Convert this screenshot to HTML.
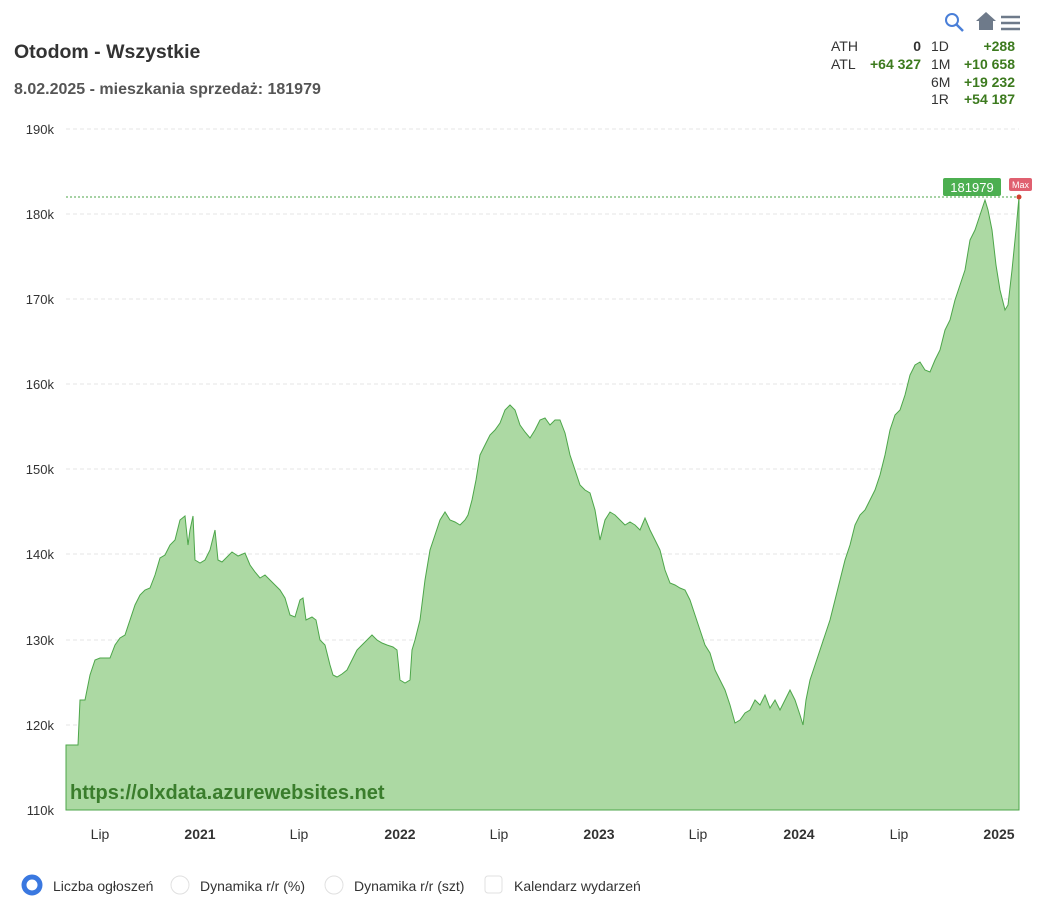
<!DOCTYPE html>
<html><head><meta charset="utf-8"><style>
body{margin:0;background:#fff;width:1039px;height:915px;overflow:hidden;font-family:"Liberation Sans",sans-serif}
</style></head><body>
<svg width="1039" height="915" xmlns="http://www.w3.org/2000/svg" font-family="Liberation Sans, sans-serif">
<rect width="1039" height="915" fill="#fff"/>
<text x="14" y="58" font-size="19.5" font-weight="bold" fill="#333">Otodom - Wszystkie</text>
<text x="14" y="94" font-size="16" font-weight="bold" fill="#555">8.02.2025 - mieszkania sprzedaż: 181979</text>
<g font-size="14" fill="#333">
<text x="831" y="51">ATH</text><text x="921" y="51" text-anchor="end" font-weight="bold">0</text>
<text x="831" y="69">ATL</text><text x="921" y="69" text-anchor="end" font-weight="bold" fill="#3c7a1e">+64 327</text>
<text x="931" y="51">1D</text><text x="1015" y="51" text-anchor="end" font-weight="bold" fill="#3c7a1e">+288</text>
<text x="931" y="69">1M</text><text x="1015" y="69" text-anchor="end" font-weight="bold" fill="#3c7a1e">+10 658</text>
<text x="931" y="87">6M</text><text x="1015" y="87" text-anchor="end" font-weight="bold" fill="#3c7a1e">+19 232</text>
<text x="931" y="104">1R</text><text x="1015" y="104" text-anchor="end" font-weight="bold" fill="#3c7a1e">+54 187</text>
</g>
<circle cx="952" cy="20" r="6" fill="none" stroke="#4a7fd8" stroke-width="2"/><line x1="956" y1="24" x2="963" y2="31" stroke="#4a7fd8" stroke-width="2.5"/>
<path d="M976 21 L986 12 L996 21 L993 21 L993 30 L979 30 L979 21Z" fill="#6e7a8a"/>
<g stroke="#6e7a8a" stroke-width="2.5"><line x1="1001" y1="17" x2="1020" y2="17"/><line x1="1001" y1="23" x2="1020" y2="23"/><line x1="1001" y1="29" x2="1020" y2="29"/></g>
<g stroke="#e6e6e6" stroke-dasharray="4,3">
<line x1="66" y1="129" x2="1019" y2="129"/><line x1="66" y1="214" x2="1019" y2="214"/><line x1="66" y1="299" x2="1019" y2="299"/><line x1="66" y1="384" x2="1019" y2="384"/><line x1="66" y1="469" x2="1019" y2="469"/><line x1="66" y1="554" x2="1019" y2="554"/><line x1="66" y1="640" x2="1019" y2="640"/><line x1="66" y1="725" x2="1019" y2="725"/>
</g>
<g font-size="13" fill="#333" text-anchor="end">
<text x="54" y="134">190k</text><text x="54" y="219">180k</text><text x="54" y="304">170k</text><text x="54" y="389">160k</text><text x="54" y="474">150k</text><text x="54" y="559">140k</text><text x="54" y="645">130k</text><text x="54" y="730">120k</text><text x="54" y="815">110k</text>
</g>
<path fill="#acd9a3" stroke="#4da64a" stroke-width="1" d="M66,745 L78,745 L80,700 L85,700 L90,675 L95,660 L100,658 L110,658 L115,645 L120,638 L125,635 L130,620 L135,605 L140,595 L145,590 L150,588 L155,575 L160,558 L165,555 L170,545 L175,540 L180,520 L185,516 L188,545 L190,530 L193,516 L195,560 L200,563 L205,560 L210,550 L215,530 L218,560 L222,562 L228,556 L232,552 L238,556 L245,553 L250,565 L255,572 L260,578 L265,575 L270,580 L275,585 L280,590 L285,598 L290,615 L295,617 L300,600 L303,598 L306,620 L312,617 L316,620 L320,640 L325,645 L330,665 L333,675 L337,677 L342,674 L347,670 L352,660 L357,650 L362,645 L367,640 L372,635 L377,640 L382,643 L387,645 L393,647 L397,650 L400,680 L405,683 L410,680 L412,650 L415,640 L420,620 L425,580 L430,550 L435,535 L440,520 L445,512 L450,520 L455,522 L460,525 L465,520 L468,515 L472,500 L476,480 L480,455 L485,445 L490,435 L495,430 L500,423 L505,410 L510,405 L515,410 L520,425 L525,432 L530,438 L535,430 L540,420 L545,418 L550,425 L555,420 L560,420 L565,433 L570,455 L575,470 L580,485 L585,490 L590,493 L595,510 L600,540 L605,520 L610,512 L615,515 L620,520 L625,525 L630,522 L635,525 L640,530 L645,518 L650,530 L655,540 L660,550 L665,570 L670,583 L675,585 L680,588 L685,590 L690,600 L695,615 L700,630 L705,645 L710,653 L715,670 L720,680 L725,690 L730,705 L735,723 L740,720 L745,713 L750,710 L755,700 L760,705 L765,695 L770,708 L775,700 L780,710 L785,700 L790,690 L795,700 L800,715 L803,725 L806,700 L810,680 L815,665 L820,650 L825,635 L830,620 L835,600 L840,580 L845,560 L850,545 L855,525 L860,515 L865,510 L870,500 L875,490 L880,475 L885,455 L890,430 L895,415 L900,410 L905,395 L910,375 L915,365 L920,362 L925,370 L930,372 L935,360 L940,350 L945,330 L950,320 L955,300 L960,285 L965,270 L970,240 L975,230 L980,215 L985,200 L988,210 L992,230 L996,265 L1000,290 L1005,310 L1008,305 L1012,270 L1016,230 L1019,197 L1019,810 L66,810 Z"/>
<line x1="66" y1="197" x2="1019" y2="197" stroke="#4da64a" stroke-dasharray="2,2"/>
<rect x="943" y="178" width="58" height="18" rx="2" fill="#4caf50"/>
<text x="972" y="192" font-size="13" fill="#fff" text-anchor="middle">181979</text>
<rect x="1009" y="178" width="23" height="13" rx="2" fill="#e06070"/>
<text x="1020.5" y="188" font-size="9" fill="#fff" text-anchor="middle">Max</text>
<circle cx="1019" cy="197" r="2.5" fill="#d04030"/>
<text x="70" y="799" font-size="20" font-weight="bold" fill="#3a7d2c">https://olxdata.azurewebsites.net</text>
<g font-size="14" fill="#333" text-anchor="middle">
<text x="100" y="839">Lip</text><text x="200" y="839" font-weight="bold">2021</text><text x="299" y="839">Lip</text><text x="400" y="839" font-weight="bold">2022</text><text x="499" y="839">Lip</text><text x="599" y="839" font-weight="bold">2023</text><text x="698" y="839">Lip</text><text x="799" y="839" font-weight="bold">2024</text><text x="899" y="839">Lip</text><text x="999" y="839" font-weight="bold">2025</text>
</g>
<circle cx="32" cy="885" r="8" fill="none" stroke="#3a78e0" stroke-width="5"/>
<text x="53" y="891" font-size="14" fill="#333">Liczba ogłoszeń</text>
<circle cx="180" cy="885" r="9" fill="none" stroke="#e0e0e0"/>
<text x="200" y="891" font-size="14" fill="#333">Dynamika r/r (%)</text>
<circle cx="334" cy="885" r="9" fill="none" stroke="#e0e0e0"/>
<text x="354" y="891" font-size="14" fill="#333">Dynamika r/r (szt)</text>
<rect x="485" y="876" width="17" height="17" rx="3" fill="none" stroke="#e0e0e0"/>
<text x="514" y="891" font-size="14" fill="#333">Kalendarz wydarzeń</text>
</svg>
</body></html>
